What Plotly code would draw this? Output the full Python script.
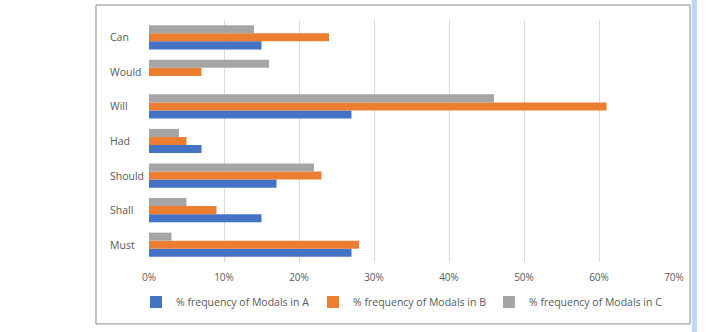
import plotly.graph_objects as go

categories = ["Must", "Shall", "Should", "Had", "Will", "Would", "Can"]
series_names = ["% frequency of Modals in A", "% frequency of Modals in B", "% frequency of Modals in C"]
values_a = [27, 15, 17, 7, 27, 0, 15]
values_b = [28, 9, 23, 5, 61, 7, 24]
values_c = [3, 5, 22, 4, 46, 16, 14]
colors = ["#4472C4", "#ED7D31", "#A5A5A5"]
tick_vals = [0, 10, 20, 30, 40, 50, 60, 70]
tick_text = ["0%", "10%", "20%", "30%", "40%", "50%", "60%", "70%"]

FONT = "Open Sans"
TXT = "#595959"

PLOT_L, PLOT_W = 149, 525
legend_ids = ["legend", "legend2", "legend3"]
legend_left_px = [136, 313, 489]

fig = go.Figure()
for name, vals, col, lg in zip(series_names, [values_a, values_b, values_c], colors, legend_ids):
    fig.add_trace(go.Bar(
        y=categories, x=vals, name=name, orientation="h", legend=lg,
        showlegend=True,
        marker=dict(color=col, line=dict(width=0)),
    ))

annotations = [
    dict(x=-0.078, y=c, xref="paper", yref="y", text=c, showarrow=False,
         xanchor="left", yanchor="middle", font=dict(family=FONT, size=10.5, color=TXT))
    for c in categories
]

legends = {}
for lg, px in zip(legend_ids, legend_left_px):
    legends[lg] = dict(orientation="h", x=(px - PLOT_L) / PLOT_W, xanchor="left",
                       y=-0.165, yanchor="middle", bgcolor="rgba(0,0,0,0)",
                       font=dict(family=FONT, size=10.5, color=TXT), itemwidth=30)

fig.update_layout(
    width=723, height=332,
    margin=dict(l=149, r=49, t=20, b=70),
    paper_bgcolor="white", plot_bgcolor="white",
    showlegend=True,
    barmode="group", bargap=0.3, bargroupgap=0,
    font=dict(family=FONT, size=10, color=TXT),
    xaxis=dict(range=[0, 70], tickvals=tick_vals, ticktext=tick_text,
               showgrid=True, gridcolor="#D9D9D9", gridwidth=1,
               zeroline=False, showline=False, ticks="", ticklabelstandoff=8,
               tickfont=dict(family=FONT, size=10, color=TXT)),
    yaxis=dict(categoryorder="array", categoryarray=categories,
               showticklabels=False, showgrid=False, zeroline=False,
               showline=False, ticks=""),
    annotations=annotations,
    shapes=[
        dict(type="rect", xref="paper", yref="paper", x0=-0.101, x1=1.0305,
             y0=-0.256, y1=1.062, line=dict(color="#8C8C8C", width=1), fillcolor="rgba(0,0,0,0)", layer="below"),
        dict(type="rect", xref="paper", yref="paper", x0=1.034, x1=1.044,
             y0=-0.29, y1=1.09, line=dict(width=0), fillcolor="#BDD7F7"),
    ],
    **legends,
)

fig.write_html("out.html")
